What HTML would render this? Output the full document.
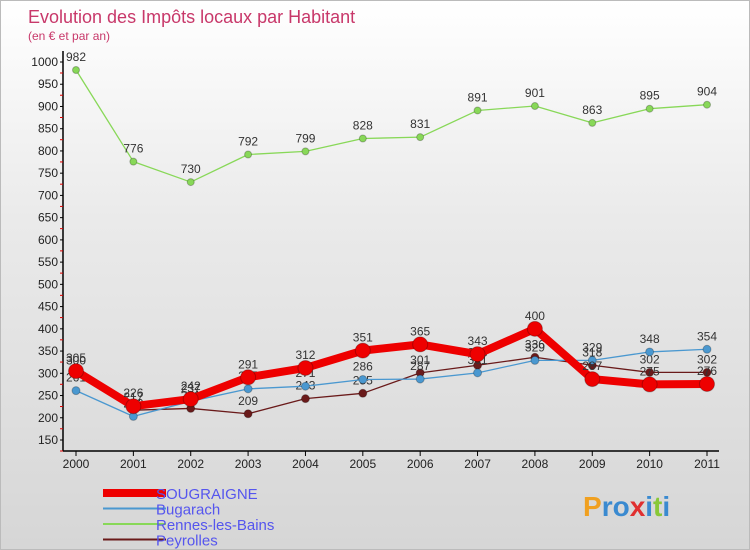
<!DOCTYPE html>
<html><head><meta charset="utf-8"><style>
body{margin:0}
#c{width:750px;height:550px;position:relative;overflow:hidden;font-family:"Liberation Sans",sans-serif;background:linear-gradient(#fff 0%,#eaeaea 40%,#d6d6d6 100%);border:1px solid #bbb;box-sizing:border-box}
</style></head><body>
<div id="c">
<svg id="s" width="750" height="550"></svg>
</div>
<script>
const years=[2000,2001,2002,2003,2004,2005,2006,2007,2008,2009,2010,2011];
const sougraigne=[305,226,242,291,312,351,365,343,400,287,275,276];
const bugarach=[261,203,237,265,271,286,287,301,329,329,348,354];
const rennes=[982,776,730,792,799,828,831,891,901,863,895,904];
const peyrolles=[300,217,221,209,243,255,301,318,336,318,302,302];
const yTicks=[150,200,250,300,350,400,450,500,550,600,650,700,750,800,850,900,950,1000];
const NS="http://www.w3.org/2000/svg";
const s=document.getElementById('s');
const X=i=>75+i*(706-75)/11;
const Y=v=>439-(v-150)*(439-61)/850;
function mk(t,a,p){const e=document.createElementNS(NS,t);for(const k in a)e.setAttribute(k,a[k]);(p||s).appendChild(e);return e;}
let t=mk('text',{x:27,y:22,'font-size':18,fill:'#c8386a'});t.textContent='Evolution des Impôts locaux par Habitant';


t=mk('text',{x:27,y:39,'font-size':12,fill:'#c8386a'});t.textContent='(en € et par an)';


let a=mk('line',{x1:62,y1:50,x2:62,y2:450,stroke:'#000','stroke-width':1.5});


a=mk('line',{x1:62,y1:450,x2:718,y2:450,stroke:'#000','stroke-width':1.5});


yTicks.forEach(v=>{
  const y=Y(v);
  mk('line',{x1:59,y1:y,x2:62,y2:y,stroke:'#000'});
  mk('line',{x1:59,y1:y+11,x2:62,y2:y+11,stroke:'#d00'});
  const l=mk('text',{x:57,y:y+4,'font-size':12,'text-anchor':'end',fill:'#222'});l.textContent=v;
  
  
});
years.forEach((yr,i)=>{
  mk('line',{x1:X(i),y1:450,x2:X(i),y2:455,stroke:'#000'});
  const l=mk('text',{x:X(i),y:467,'font-size':12,'text-anchor':'middle',fill:'#222'});l.textContent=yr;
  
  
});
function series(d,col,w,r,name){
  const g=mk('g',{});
  
  
  mk('polyline',{points:d.map((v,i)=>X(i)+','+Y(v)).join(' '),fill:'none',stroke:col,'stroke-width':w,'stroke-linejoin':'round'},g);
  d.forEach((v,i)=>{
    const c=mk('circle',{cx:X(i),cy:Y(v),r:r,fill:col,stroke:'rgba(0,0,0,0.25)'},g);
    
    
    const l=mk('text',{x:X(i),y:Y(v)-9,'font-size':12,'text-anchor':'middle',fill:'#333'},g);l.textContent=v;
    
    
  });
}
series(rennes,'#88d858',1.3,3.5,'rennes-les-bains-series');
series(peyrolles,'#6a1a1a',1.3,4,'peyrolles-series');
series(bugarach,'#4a98d0',1.3,4,'bugarach-series');
series(sougraigne,'#ee0000',8,7.5,'sougraigne-series');
const leg=[['SOUGRAIGNE','#ee0000',8],['Bugarach','#4a98d0',2],['Rennes-les-Bains','#88d858',2],['Peyrolles','#6a1a1a',2]];
leg.forEach((L,i)=>{
  const y=492+i*15.5;
  const g=mk('g',{});
  
  
  mk('line',{x1:102,y1:y,x2:165,y2:y,stroke:L[1],'stroke-width':L[2]},g);
  const tx=mk('text',{x:155,y:y+6,'font-size':15,fill:'#5555ee'},g);tx.textContent=L[0];
});
const lg=mk('text',{x:582,y:515,'font-size':28,'font-weight':'bold',fill:'#3a8ad0'});
lg.innerHTML='<tspan fill="#f0a020">P</tspan><tspan fill="#3a8ad0">ro</tspan><tspan fill="#e03030">x</tspan><tspan fill="#3a8ad0">i</tspan><tspan fill="#88c838">t</tspan><tspan fill="#3a8ad0">i</tspan>';


</script>
</body></html>
